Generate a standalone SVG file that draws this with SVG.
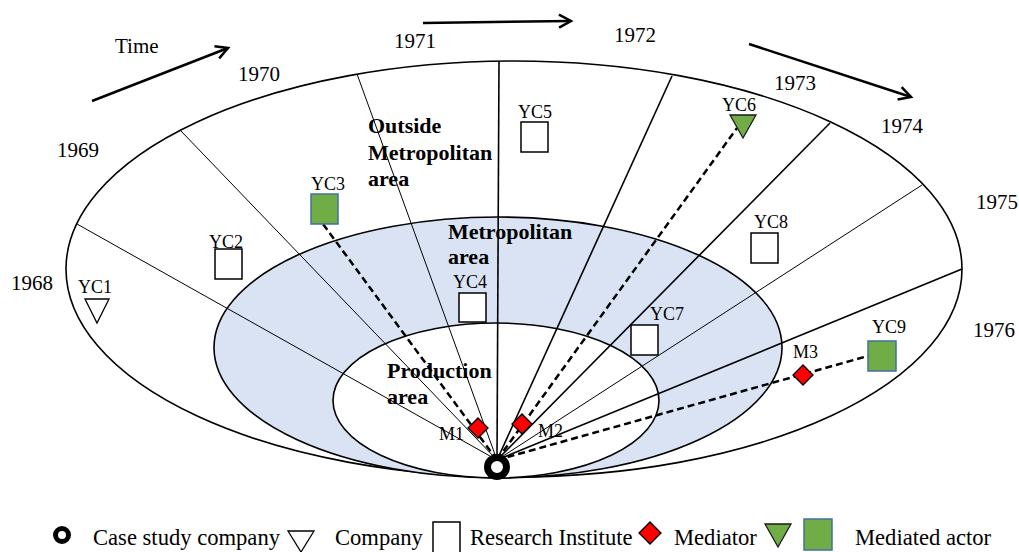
<svg xmlns="http://www.w3.org/2000/svg" width="1019" height="552" viewBox="0 0 1019 552">
<defs>
<style>
.yr{font-family:"Liberation Serif","Times New Roman",serif;font-size:21px;fill:#000}
.bl{font-family:"Liberation Serif","Times New Roman",serif;font-size:22px;font-weight:bold;fill:#000}
.lb{font-family:"Liberation Serif","Times New Roman",serif;font-size:18px;fill:#000}
.lg{font-family:"Liberation Serif","Times New Roman",serif;font-size:22.6px;fill:#000}
.thin{stroke:#000;stroke-width:1;fill:none}
.med{stroke:#000;stroke-width:1.6;fill:none}
.dash{stroke:#000;stroke-width:2.5;stroke-dasharray:7 4;fill:none}
.ri{fill:#fff;stroke:#000;stroke-width:1.5}
.ma{fill:#70AD47;stroke:#41719C;stroke-width:1.5}
.co{fill:#fff;stroke:#000;stroke-width:1.3}
.mt{fill:#70AD47;stroke:#1a1a1a;stroke-width:1.3}
.md{fill:#FF0000;stroke:#000;stroke-width:1.3}
.arr{stroke:#000;stroke-width:2.5;fill:none}
</style>
<marker id="ah" viewBox="0 0 14 14" refX="13" refY="7" markerWidth="14" markerHeight="14" markerUnits="userSpaceOnUse" orient="auto" overflow="visible">
<path d="M1,0.5 L13,7 L1,13.5" fill="none" stroke="#000" stroke-width="2.5"/>
</marker>
</defs>
<rect width="1019" height="552" fill="#fff"/>
<g id="areas">
<ellipse cx="514" cy="269" rx="448" ry="208" fill="#fff" stroke="#000" stroke-width="1.6"/>
<ellipse cx="498" cy="347.5" rx="284" ry="130.5" fill="#DAE3F3" stroke="#000" stroke-width="1.6"/>
<ellipse cx="496" cy="400.5" rx="163" ry="77.5" fill="#fff" stroke="#000" stroke-width="1.6"/>
</g>
<g id="connectors">
<line class="thin" x1="497" y1="460" x2="77" y2="224"/>
<line class="thin" x1="497" y1="460" x2="181" y2="131"/>
<line class="thin" x1="497" y1="460" x2="357" y2="74"/>
<line class="med" x1="497" y1="460" x2="499" y2="61"/>
<line class="med" x1="497" y1="460" x2="672" y2="76"/>
<line class="med" x1="497" y1="460" x2="830" y2="123"/>
<line class="thin" x1="497" y1="460" x2="922" y2="185"/>
<line class="med" x1="497" y1="460" x2="962" y2="269"/>
<line class="dash" x1="497" y1="460" x2="323" y2="224"/>
<line class="dash" x1="497" y1="460" x2="737" y2="128"/>
<line class="dash" x1="497" y1="460" x2="868" y2="356"/>
</g>
<g id="time-arrows">
<line class="arr" x1="92" y1="101" x2="228" y2="48" marker-end="url(#ah)"/>
<line class="arr" x1="423" y1="23" x2="571" y2="21" marker-end="url(#ah)"/>
<line class="arr" x1="749" y1="44" x2="911" y2="97" marker-end="url(#ah)"/>
<text class="yr" x="115" y="53">Time</text>
</g>
<g id="years">
<text class="yr" x="11" y="290">1968</text>
<text class="yr" x="57" y="157">1969</text>
<text class="yr" x="238" y="81">1970</text>
<text class="yr" x="394" y="48">1971</text>
<text class="yr" x="614" y="42">1972</text>
<text class="yr" x="774" y="90">1973</text>
<text class="yr" x="881" y="133">1974</text>
<text class="yr" x="976" y="209">1975</text>
<text class="yr" x="973" y="337">1976</text>
</g>
<g id="area-labels">
<text class="bl" x="368" y="133">Outside</text>
<text class="bl" x="368" y="160">Metropolitan</text>
<text class="bl" x="368" y="186">area</text>
<text class="bl" x="448" y="239">Metropolitan</text>
<text class="bl" x="448" y="264">area</text>
<text class="bl" x="387" y="378">Production</text>
<text class="bl" x="387" y="404">area</text>
</g>
<g id="YC1"><polygon class="co" points="85,299 109,299 97,323"/><text class="lb" x="78" y="293">YC1</text></g>
<g id="YC2"><rect class="ri" x="215" y="249" width="27" height="30"/><text class="lb" x="209" y="248">YC2</text></g>
<g id="YC3"><rect class="ma" x="311" y="194" width="27" height="30"/><text class="lb" x="311" y="190">YC3</text></g>
<g id="YC4"><rect class="ri" x="459" y="293" width="27" height="29"/><text class="lb" x="453" y="288">YC4</text></g>
<g id="YC5"><rect class="ri" x="521" y="122" width="27" height="30"/><text class="lb" x="518" y="118">YC5</text></g>
<g id="YC6"><polygon class="mt" points="730,115 756,115 743,138"/><text class="lb" x="722" y="111">YC6</text></g>
<g id="YC7"><rect class="ri" x="631" y="325" width="27" height="30"/><text class="lb" x="650" y="320">YC7</text></g>
<g id="YC8"><rect class="ri" x="751" y="233" width="27" height="30"/><text class="lb" x="754" y="228">YC8</text></g>
<g id="YC9"><rect class="ma" x="868" y="341" width="28" height="30"/><text class="lb" x="872" y="333">YC9</text></g>
<g id="M1"><polygon class="md" points="478,418 488,428 478,438 468,428"/><text class="lb" x="439" y="440">M1</text></g>
<g id="M2"><polygon class="md" points="522,414 532,424 522,434 512,424"/><text class="lb" x="538" y="437">M2</text></g>
<g id="M3"><polygon class="md" points="803,365 813,375 803,385 793,375"/><text class="lb" x="793" y="358">M3</text></g>
<g id="case-company"><circle cx="497" cy="467" r="9.5" fill="#fff" stroke="#000" stroke-width="7"/></g>
<g id="legend">
<circle cx="62" cy="535" r="6.5" fill="#fff" stroke="#000" stroke-width="5"/>
<text class="lg" x="93" y="545">Case study company</text>
<polygon class="co" points="288,531 314,531 301,552"/>
<text class="lg" x="335" y="545">Company</text>
<rect class="ri" x="433" y="522" width="27" height="31"/>
<text class="lg" x="470" y="545">Research Institute</text>
<polygon class="md" points="650,522 661,533 650,544 639,533"/>
<text class="lg" x="674" y="545">Mediator</text>
<polygon class="mt" points="765,524 791,524 778,547"/>
<rect class="ma" x="804" y="519" width="28" height="31"/>
<text class="lg" x="855" y="545">Mediated actor</text>
</g>
</svg>
